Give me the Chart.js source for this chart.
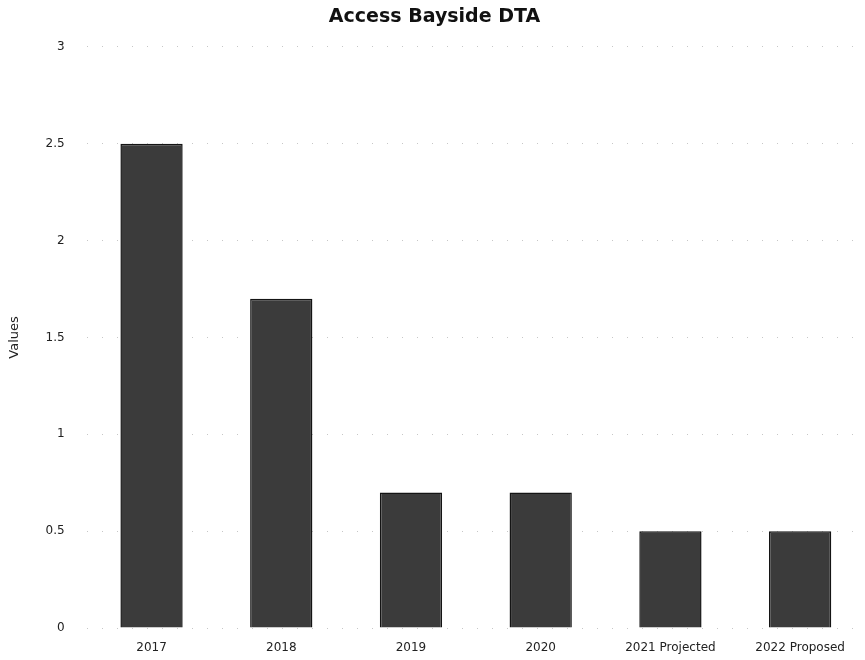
<!DOCTYPE html>
<html>
<head>
<meta charset="utf-8">
<script src="https://cdn.jsdelivr.net/npm/chart.js@4/dist/chart.umd.min.js"></script>
<style>
  html, body { margin: 0; padding: 0; background: #fff; }
  #wrap { width: 865px; height: 660px; }
</style>
</head>
<body>
<div id="wrap"><canvas id="chart"></canvas></div>
<script>
const categories = ['2017', '2018', '2019', '2020', '2021 Projected', '2022 Proposed'];
const values = [2.5, 1.7, 0.7, 0.7, 0.5, 0.5];
const yTicks = [0, 0.5, 1, 1.5, 2, 2.5, 3];

const FONT = "'DejaVu Sans', 'Noto Sans', sans-serif";

new Chart(document.getElementById('chart'), {
    type: 'bar',
    data: {
        labels: categories,
        datasets: [{
            data: values,
            backgroundColor: '#3b3b3b',
            borderColor: '#141414',
            borderWidth: 1.5,
            categoryPercentage: 0.96,
            barPercentage: 0.5,
        }],
    },
    options: {
        responsive: true,
        maintainAspectRatio: false,
        animation: false,
        layout: { padding: { left: 4, right: 0, top: 0, bottom: 0 } },
        plugins: {
            legend: { display: false },
            tooltip: { enabled: false },
            title: {
                display: true,
                text: 'Access Bayside DTA',
                color: '#111',
                font: { family: FONT, size: 19, weight: 'bold' },
                padding: { top: 6, bottom: 18 },
            },
        },
        scales: {
            x: {
                grid: { display: false },
                border: { display: false },
                ticks: { color: '#222', font: { family: FONT, size: 12, lineHeight: 1 }, maxRotation: 0, padding: 6 },
            },
            y: {
                min: 0,
                max: 3,
                afterBuildTicks: axis => { axis.ticks = yTicks.map(v => ({ value: v })); },
                grid: { color: 'rgba(0,0,0,0.22)', borderDash: [1, 14], drawTicks: false },
                border: { display: false, dash: [1, 14] },
                ticks: { color: '#222', font: { family: FONT, size: 12 }, padding: 22, callback: v => String(v) },
                title: { display: true, text: 'Values', color: '#222', font: { family: FONT, size: 13 }, padding: { top: 3, bottom: 1 } },
            },
        },
    },
});
</script>
</body>
</html>
